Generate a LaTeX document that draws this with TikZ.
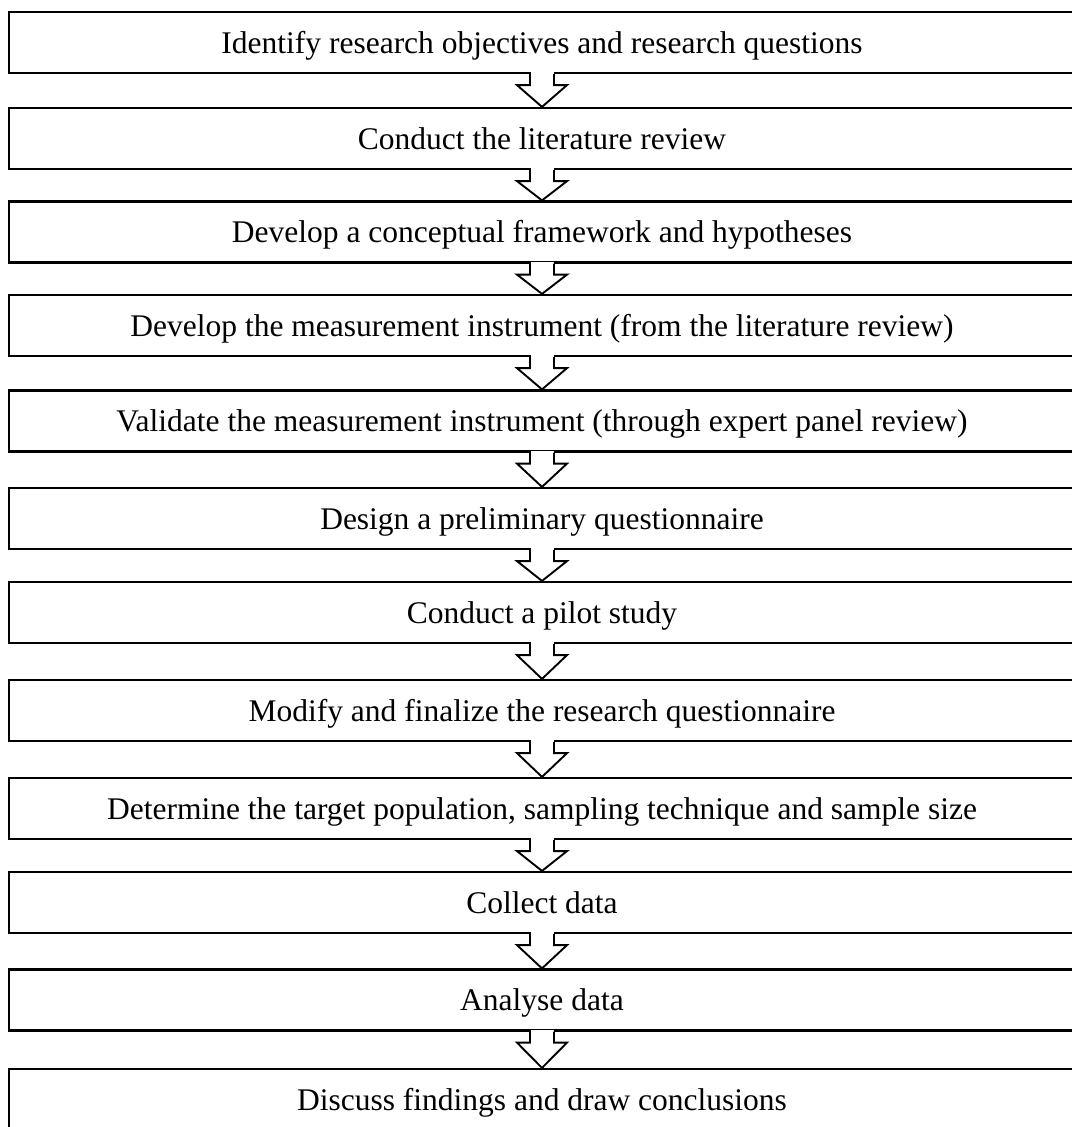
\documentclass[tikz,border=0pt]{standalone}
\usepackage{fontspec}
\setmainfont{Liberation Serif}
\usetikzlibrary{calc}
\begin{document}
\begin{tikzpicture}[x=1pt,y=-1pt,
  stepbox/.style={draw=black, line width=2.2pt, minimum width=1066pt,
    minimum height=61pt, inner sep=0pt, text height=21pt, text depth=0pt,
    font=\fontsize{31.5}{36}\selectfont},
  arrowline/.style={draw=black, line width=1.9pt, line join=miter}]
\useasboundingbox (0,0) rectangle (1071,1127);
% the twelve steps, top to bottom (vertical centre of each box)
\foreach \k/\yc/\txt in {
  1/42.5/{Identify research objectives and research questions},
  2/138.5/{Conduct the literature review},
  3/232/{Develop a conceptual framework and hypotheses},
  4/325.5/{Develop the measurement instrument (from the literature review)},
  5/421/{Validate the measurement instrument (through expert panel review)},
  6/518.5/{Design a preliminary questionnaire},
  7/612.5/{Conduct a pilot study},
  8/710.5/{Modify and finalize the research questionnaire},
  9/808.5/{Determine the target population, sampling technique and sample size},
  10/902.5/{Collect data},
  11/1000/{Analyse data},
  12/1099.5/{Discuss findings and draw conclusions}}
  \node[stepbox] (b\k) at (542, \yc) {\txt};
% hollow block arrows between consecutive steps
\foreach \i/\j in {1/2,2/3,3/4,4/5,5/6,6/7,7/8,8/9,9/10,10/11,11/12} {
  \fill[white] ($(b\i.south)+(-11.5,-2)$) rectangle ($(b\i.south)+(11.5,2)$);
  \draw[arrowline] ($(b\i.south)+(-12,0)$) -- ++(0,11) -- ++(-13,0)
    -- (b\j.north) -- ($(b\i.south)+(25,11)$) -- ++(-13,0) -- ++(0,-11);
}
\end{tikzpicture}
\end{document}
